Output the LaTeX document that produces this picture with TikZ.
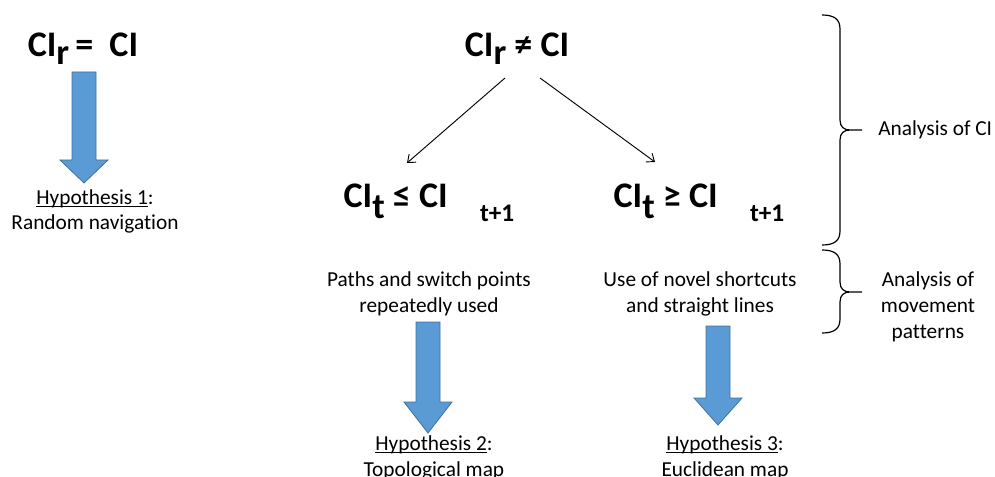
\documentclass[tikz,border=0pt]{standalone}
\usepackage{fontspec}
\setmainfont{Carlito}[Ligatures=NoCommon]
\usetikzlibrary{arrows.meta}

\definecolor{arrowblue}{HTML}{5B9BD5}
\definecolor{arrowedge}{HTML}{41719C}

\newcommand{\bigtxt}{\fontsize{27}{30}\selectfont\bfseries}
\newcommand{\lowsub}[2]{\raisebox{-#1}{#2}}
\newcommand{\hypul}[1]{\setbox0\hbox{#1}\rlap{\rule[-2.2pt]{\wd0}{0.8pt}}\box0}

\tikzset{
  cond/.style={inner sep=0pt, anchor=base, font=\bigtxt},
  note/.style={inner sep=0pt, anchor=base, align=center, font=\fontsize{16}{19.5}\selectfont},
  thin arrow/.style={-{Straight Barb[length=5pt,width=8pt]}, line width=0.7pt},
  block arrow/.style={fill=arrowblue, draw=arrowedge, line width=0.6pt},
  bracepath/.style={line width=0.9pt},
}

\begin{document}
\begin{tikzpicture}[x=0.75pt,y=-0.75pt]
  \useasboundingbox (0,0) rectangle (995,477);

  % 1. conditions on CI
  \node[cond] (eqL) at (83,57) {CI\lowsub{6pt}{r}\,=\ \ CI};
  \node[cond] (eqR) at (517,57) {CI\lowsub{6pt}{r} ≠ CI};
  \node[cond] (leq) at (429,208) {CI\lowsub{8pt}{t} ≤ CI\hspace{0.9em}\lowsub{10pt}{\fontsize{19}{20}\selectfont t+1}};
  \node[cond] (geq) at (699,208) {CI\lowsub{8pt}{t} ≥ CI\hspace{0.9em}\lowsub{10pt}{\fontsize{19}{20}\selectfont t+1}};

  % 2. split of CI_r != CI
  \coordinate (splitL) at (505,78);
  \coordinate (splitR) at (540,78);
  \coordinate (leqTop) at (407,163);
  \coordinate (geqTop) at (655,162);
  \draw[thin arrow] (splitL) -- (leqTop);
  \draw[thin arrow] (splitR) -- (geqTop);

  % 3. movement patterns and hypotheses (base = last line)
  \node[note] (paths) at (429,312) {Paths and switch points\\repeatedly used};
  \node[note] (novel) at (700,312) {Use of novel shortcuts\\and straight lines};
  \node[note] (hyp1) at (95,230) {\hypul{Hypothesis 1}:\\Random navigation};
  \node[note] (hyp2) at (434,476) {\hypul{Hypothesis 2}:\\Topological map};
  \node[note] (hyp3) at (725,476) {\hypul{Hypothesis 3}:\\Euclidean map};

  % 4. block arrows
  \foreach \cx/\ytop/\yhead/\ytip in {84/72/160/183, 428/322/402/433, 718/326/398/425}
    \draw[block arrow] (\cx-12,\ytop) -- (\cx+12,\ytop) -- (\cx+12,\yhead) -- (\cx+24,\yhead)
      -- (\cx,\ytip) -- (\cx-24,\yhead) -- (\cx-12,\yhead) -- cycle;

  % 5. braces on the right
  \foreach \yt/\ym/\yb in {15/130/245, 250/292/333}
    \draw[bracepath] (822,\yt) .. controls (834,\yt) and (840,\yt+4) .. (840,\yt+14)
      -- (840,\ym-10) .. controls (840,\ym-3) and (844,\ym) .. (850,\ym)
      .. controls (844,\ym) and (840,\ym+3) .. (840,\ym+10)
      -- (840,\yb-14) .. controls (840,\yb-4) and (834,\yb) .. (822,\yb)
      (850,\ym) -- (862,\ym);

  \node[note, anchor=base west] (anaCI) at (878,136) {Analysis of CI};
  \node[note] (anaMove) at (928,338) {Analysis of\\movement\\patterns};
\end{tikzpicture}
\end{document}
